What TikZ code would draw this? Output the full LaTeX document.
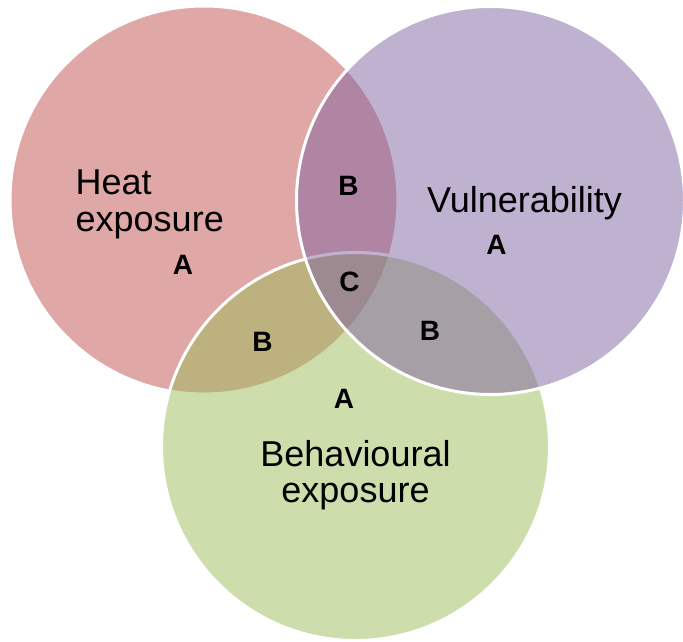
\documentclass[tikz,border=0pt]{standalone}
\usepackage{fontspec}
\setmainfont{Liberation Sans}
\definecolor{heatRed}{HTML}{C0504D}
\definecolor{behavGreen}{HTML}{9BBB59}
\definecolor{vulnPurple}{HTML}{8064A2}

\begin{document}
\begin{tikzpicture}[x=1pt, y=-1pt,
	venn/.style={fill opacity=0.5, draw=white, line width=3pt},
	title/.style={font=\fontsize{36}{40}\selectfont, inner sep=0pt},
	tag/.style={font=\fontsize{28}{30}\selectfont\bfseries, inner sep=0pt}]

	\useasboundingbox (0,0) rectangle (683,641);

	\coordinate (heatC) at (204, 200);
	\coordinate (vulnC) at (490.5, 200.5);
	\coordinate (behavC) at (355.5, 446.5);

	\draw[venn, fill=heatRed] (heatC) circle (194);
	\draw[venn, fill=behavGreen] (behavC) circle (194);
	\draw[venn, fill=vulnPurple] (vulnC) circle (194);

	\node[title, anchor=base west] (heatTop) at (75.5, 194) {Heat};
	\node[title, anchor=base west] (heatBot) at (75.5, 231) {exposure};
	\node[title, anchor=base] (vulnTxt) at (524.5, 212.5) {Vulnerability};
	\node[title, anchor=base] (behavTop) at (355.5, 466) {Behavioural};
	\node[title, anchor=base] (behavBot) at (355.5, 502) {exposure};

	% region letters
	\node[tag] (heatA) at (183, 265) {A};
	\node[tag] (vulnA) at (496.5, 244.5) {A};
	\node[tag] (behavA) at (344, 398.5) {A};
	\node[tag] (hvB) at (348.5, 186) {B};
	\node[tag] (hbB) at (262.5, 341.5) {B};
	\node[tag] (vbB) at (430, 331) {B};
	\node[tag] (allC) at (349.5, 282) {C};
\end{tikzpicture}
\end{document}
